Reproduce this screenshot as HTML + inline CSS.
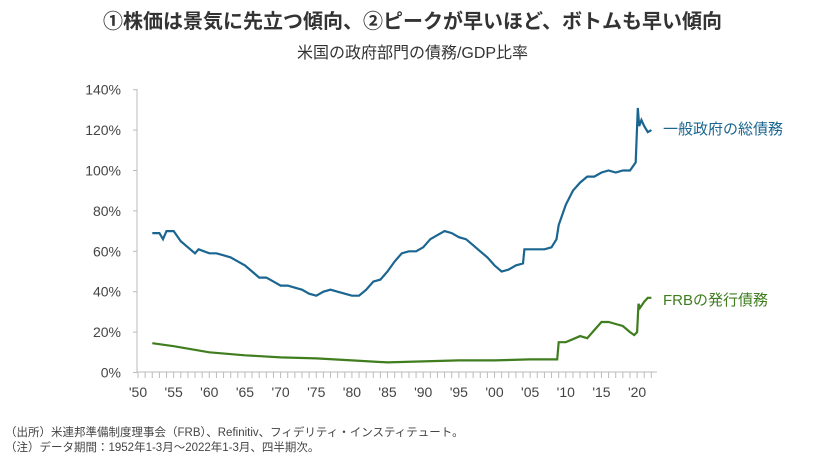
<!DOCTYPE html>
<html><head><meta charset="utf-8"><style>
body{margin:0;background:#fff;width:825px;height:464px;overflow:hidden;font-family:"Liberation Sans","Noto Sans CJK JP",sans-serif;}
.t{position:absolute;left:0;width:825px;text-align:center;color:#333;}
</style></head><body>
<div class="t" style="top:5px;font-size:20px;font-weight:bold;">①株価は景気に先立つ傾向、②ピークが早いほど、ボトムも早い傾向</div>
<div class="t" style="top:39px;font-size:16px;">米国の政府部門の債務/GDP比率</div>
<svg id="s" width="825" height="464" style="position:absolute;left:0;top:0" xmlns="http://www.w3.org/2000/svg"></svg>
<div style="position:absolute;left:5px;top:426px;font-size:11.5px;color:#444;line-height:15px;">（出所）米連邦準備制度理事会（FRB）、Refinitiv、フィデリティ・インスティテュート。<br>（注）データ期間：1952年1-3月～2022年1-3月、四半期次。</div>
<script>
const s=document.getElementById('s');let h='';
const X=y=>138+7.13*(y-1950),Y=v=>372.5-2.02*v;
h+='<line x1="137" y1="89" x2="137" y2="372" stroke="#bbb"/>';
h+='<line x1="137" y1="372" x2="657" y2="372" stroke="#bbb"/>';
for(let i=0;i<=7;i++){let y=Y(i*20);h+=`<line x1="133" y1="${y}" x2="137" y2="${y}" stroke="#bbb"/><text x="121" y="${y+5}" text-anchor="end" font-size="14" fill="#444">${i*20}%</text>`;}
for(let yr=1950;yr<=2022;yr++){let x=X(yr);h+=`<line x1="${x}" y1="372" x2="${x}" y2="378" stroke="#bbb"/>`;}
for(let yr=1950;yr<=2020;yr+=5){h+=`<text x="${X(yr)}" y="397" text-anchor="middle" font-size="14" fill="#444">'${String(yr%100).padStart(2,'0')}</text>`;}
const b=[[1952,69],[1953,69],[1953.5,66],[1954,70],[1955,70],[1956,65],[1957,62],[1958,59],[1958.5,61],[1960,59],[1961,59],[1962,58],[1963,57],[1964,55],[1965,53],[1966,50],[1967,47],[1968,47],[1969,45],[1970,43],[1971,43],[1972,42],[1973,41],[1974,39],[1975,38],[1976,40],[1977,41],[1978,40],[1979,39],[1980,38],[1981,38],[1982,41],[1983,45],[1984,46],[1985,50],[1986,55],[1987,59],[1988,60],[1989,60],[1990,62],[1991,66],[1992,68],[1993,70],[1994,69],[1995,67],[1996,66],[1997,63],[1998,60],[1999,57],[2000,53],[2001,50],[2002,51],[2003,53],[2004,54],[2004.2,61],[2005,61],[2006,61],[2007,61],[2008,62],[2008.7,66],[2009,73],[2010,83],[2011,90],[2012,94],[2013,97],[2014,97],[2015,99],[2016,100],[2017,99],[2018,100],[2019,100],[2019.8,104],[2020.1,131],[2020.3,122],[2020.6,125],[2021,122],[2021.5,119],[2022,120]];
const g=[[1952,14.5],[1955,13],[1960,10],[1965,8.5],[1970,7.5],[1975,7],[1980,6],[1985,5],[1990,5.5],[1995,6],[2000,6],[2005,6.5],[2008.8,6.5],[2009,15],[2010,15],[2011,16.5],[2012,18],[2013,17],[2014,21],[2015,25],[2016,25],[2017,24],[2018,23],[2019,20],[2019.6,18.5],[2020,20],[2020.2,34],[2020.4,32],[2021,35],[2021.5,37],[2022,37]];
const P=a=>a.map(p=>X(p[0]).toFixed(1)+','+Y(p[1]).toFixed(1)).join(' ');
h+=`<polyline points="${P(b)}" fill="none" stroke="#1a6690" stroke-width="2.2"/>`;
h+=`<polyline points="${P(g)}" fill="none" stroke="#3f7d1f" stroke-width="2.2"/>`;
h+='<text x="663" y="134" font-size="15" fill="#1a6690">一般政府の総債務</text>';
h+='<text x="663" y="305" font-size="15" fill="#3f7d1f">FRBの発行債務</text>';
s.innerHTML=h;
</script>
</body></html>
